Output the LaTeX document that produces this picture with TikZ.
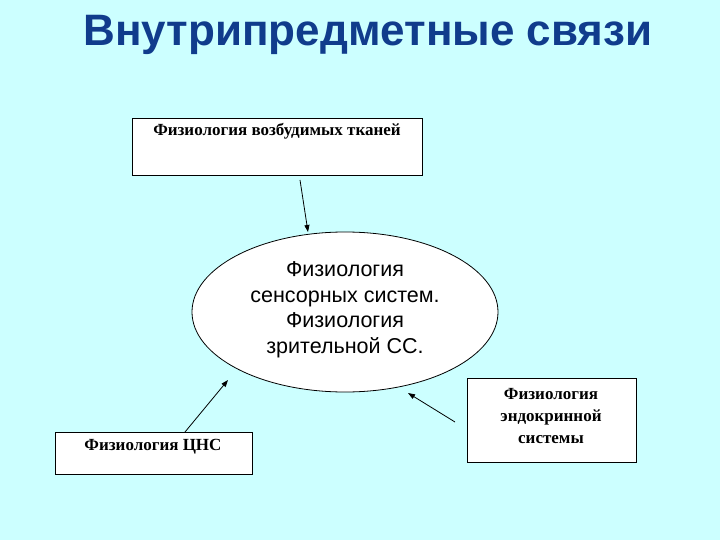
\documentclass[tikz,border=0pt]{standalone}
\usepackage{fontspec}
\setmainfont{Liberation Serif}
\newfontfamily\sansf{Liberation Sans}
\usetikzlibrary{shapes.geometric,arrows.meta}
\definecolor{bgc}{RGB}{204,255,255}
\definecolor{titc}{RGB}{16,60,140}
\tikzset{
  boxs/.style={draw=black,fill=white,line width=0.8pt},
  arr/.style={-{Triangle[length=7pt,width=5pt]},line width=0.8pt},
  lab/.style={font=\bfseries\fontsize{17}{22}\selectfont,align=center}
}
\begin{document}
\begin{tikzpicture}[x=1pt,y=-1pt]
\fill[bgc] (0,0) rectangle (720,540);
\useasboundingbox (0,0) rectangle (720,540);
\node[text=titc,font=\sansf\bfseries\fontsize{44}{46}\selectfont] (title) at (368,35) {Внутрипредметные связи};
\draw[boxs] (132,118) rectangle (422,175);
\node[lab] (t1) at (277,131) {Физиология возбудимых тканей};
\coordinate (b1) at (300,180);
\node[ellipse,boxs,minimum width=306pt,minimum height=160pt] (ell) at (345,312) {};
\node[font=\sansf\fontsize{21.5}{25.5}\selectfont,align=center] (et) at (345,310) {Физиология\\сенсорных систем.\\Физиология\\зрительной СС.};
\draw[boxs] (55,432) rectangle (252,474);
\node[lab] (t2) at (153,447) {Физиология ЦНС};
\draw[boxs] (467,378) rectangle (636,462);
\node[lab] (t3) at (551,416) {Физиология\\эндокринной\\системы};
\coordinate (a1) at (308,232);
\coordinate (b2) at (185,432);
\coordinate (a2) at (228,380);
\coordinate (b3) at (455,422);
\coordinate (a3) at (408,393);
\draw[arr] (b1) -- (a1);
\draw[arr] (b2) -- (a2);
\draw[arr] (b3) -- (a3);
\end{tikzpicture}
\end{document}
